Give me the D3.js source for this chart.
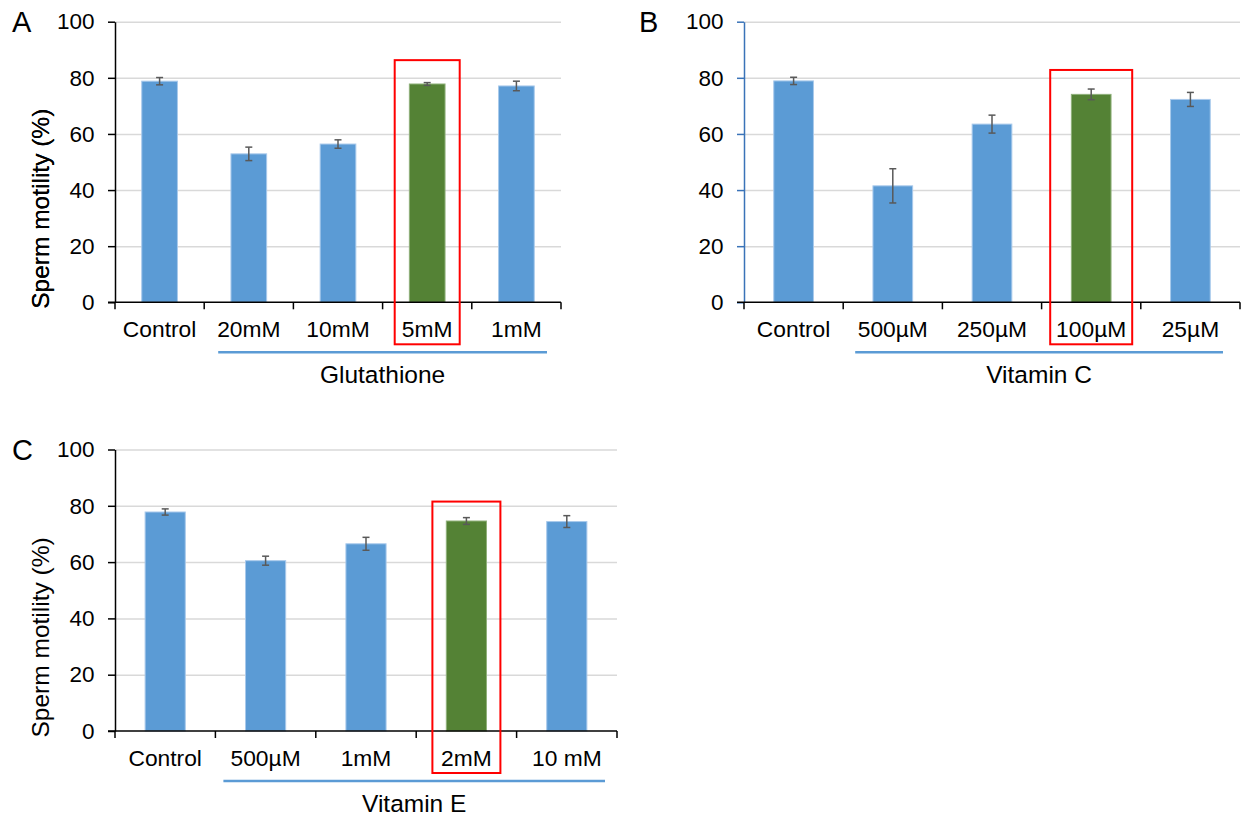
<!DOCTYPE html>
<html lang="en">
<head>
    <meta charset="utf-8">
    <title>Sperm motility</title>
    <script src="https://d3js.org/d3.v7.min.js"></script>
    <style>
        html, body {
            margin: 0;
            padding: 0;
            background: #fff;
        }
        text {
            font-family: Arial, "Liberation Sans", sans-serif;
            fill: #000;
        }
        .grid line {
            stroke: #d9d9d9;
            stroke-width: 1.5px;
        }
        .grid path {
            display: none;
        }
    </style>
</head>
<body>
<script type="text/javascript">

    // Panel A - Glutathione
    var catsA = ["Control", "20mM", "10mM", "5mM", "1mM"];
    var valsA = [78.8, 52.9, 56.4, 77.8, 77.1];
    var errA = [1.3, 2.4, 1.5, 0.5, 1.7];

    // Panel B - Vitamin C
    var catsB = ["Control", "500µM", "250µM", "100µM", "25µM"];
    var valsB = [78.9, 41.5, 63.5, 74.1, 72.3];
    var errB = [1.3, 6.1, 3.2, 1.9, 2.5];

    // Panel C - Vitamin E
    var catsC = ["Control", "500µM", "1mM", "2mM", "10 mM"];
    var valsC = [77.8, 60.5, 66.5, 74.6, 74.4];
    var errC = [1.1, 1.6, 2.3, 1.2, 2.1];

    var yTicks = [0, 20, 40, 60, 80, 100];
    var yTitle = "Sperm motility (%)";

    var w = 1241;
    var h = 817;

    var svg = d3.select("body")
        .append("svg")
        .attr("width", w)
        .attr("height", h);

    var panels = [
        { letter: "A", cats: catsA, vals: valsA, err: errA, group: "Glutathione", best: 3,
          left: 115, right: 561, top: 21.7, bottom: 302.3, yAxisColor: "#000",
          letterX: 12, boxTop: 86.3, boxW: 65, lineL: 14, lineR: 14 },
        { letter: "B", cats: catsB, vals: valsB, err: errB, group: "Vitamin C", best: 3,
          left: 744, right: 1240, top: 21.7, bottom: 302.3, yAxisColor: "#3a73b8",
          letterX: 639, boxTop: 82.8, boxW: 82, lineL: 12, lineR: 17 },
        { letter: "C", cats: catsC, vals: valsC, err: errC, group: "Vitamin E", best: 3,
          left: 115, right: 617, top: 449.5, bottom: 731, yAxisColor: "#000",
          letterX: 12, boxTop: 81.5, boxW: 68, lineL: 8, lineR: 12 }
    ];

    panels.forEach(drawPanel);

    function drawPanel(p) {
        var g = svg.append("g");

        var x = d3.scaleBand()
            .domain(p.cats)
            .range([p.left, p.right])
            .paddingInner(0.6)
            .paddingOuter(0.3);

        var y = d3.scaleLinear()
            .domain([0, 100])
            .range([p.bottom, p.top]);

        var step = x.step();
        var x0 = p.left;

        // gridlines
        g.append("g")
            .attr("class", "grid")
            .attr("transform", "translate(" + p.left + ",0)")
            .call(d3.axisLeft(y).tickValues(yTicks.slice(1)).tickSize(-(p.right - p.left)).tickFormat(""));

        // bars
        g.selectAll("rect.bar")
            .data(p.vals)
            .enter()
            .append("rect")
            .attr("class", "bar")
            .attr("x", function(d, i) { return x(p.cats[i]); })
            .attr("y", function(d) { return y(d); })
            .attr("width", x.bandwidth())
            .attr("height", function(d) { return y(0) - y(d); })
            .attr("fill", function(d, i) { return i === p.best ? "#548235" : "#5b9bd5"; })
            .attr("stroke", function(d, i) { return i === p.best ? "#8fb07a" : "#a8c9eb"; })
            .attr("stroke-width", 1);

        // error bars
        var eb = g.selectAll("g.err")
            .data(p.vals)
            .enter()
            .append("g")
            .attr("class", "err")
            .attr("stroke", "#595959")
            .attr("stroke-width", 1.5);

        eb.append("line")
            .attr("x1", function(d, i) { return x(p.cats[i]) + x.bandwidth() / 2; })
            .attr("x2", function(d, i) { return x(p.cats[i]) + x.bandwidth() / 2; })
            .attr("y1", function(d, i) { return y(d + p.err[i]); })
            .attr("y2", function(d, i) { return y(d - p.err[i]); });

        [1, -1].forEach(function(s) {
            eb.append("line")
                .attr("x1", function(d, i) { return x(p.cats[i]) + x.bandwidth() / 2 - 3.5; })
                .attr("x2", function(d, i) { return x(p.cats[i]) + x.bandwidth() / 2 + 3.5; })
                .attr("y1", function(d, i) { return y(d + s * p.err[i]); })
                .attr("y2", function(d, i) { return y(d + s * p.err[i]); });
        });

        // y axis
        var yAxis = g.append("g")
            .attr("transform", "translate(" + p.left + ",0)")
            .call(d3.axisLeft(y).tickValues(yTicks).tickSize(7).tickSizeOuter(0).tickPadding(13.5));
        yAxis.select(".domain").attr("stroke", p.yAxisColor).attr("stroke-width", 1.5);
        yAxis.selectAll(".tick line").attr("stroke", p.yAxisColor).attr("stroke-width", 1.5);
        yAxis.selectAll(".tick text")
            .style("font-size", "22.5px")
            .attr("fill", "#000");

        // x axis: line + ticks at band boundaries
        g.append("line")
            .attr("x1", p.left - 7)
            .attr("x2", p.right)
            .attr("y1", y(0))
            .attr("y2", y(0))
            .attr("stroke", "#000")
            .attr("stroke-width", 1.5);

        g.selectAll("line.xtick")
            .data(d3.range(p.cats.length + 1))
            .enter()
            .append("line")
            .attr("class", "xtick")
            .attr("x1", function(i) { return x0 + i * step; })
            .attr("x2", function(i) { return x0 + i * step; })
            .attr("y1", y(0))
            .attr("y2", y(0) + 7)
            .attr("stroke", "#000")
            .attr("stroke-width", 1.5);

        g.selectAll("text.xlab")
            .data(p.cats)
            .enter()
            .append("text")
            .attr("class", "xlab")
            .attr("x", function(d) { return x(d) + x.bandwidth() / 2; })
            .attr("y", y(0) + 35)
            .attr("text-anchor", "middle")
            .style("font-size", "22.8px")
            .text(function(d) { return d; });

        // group bracket line + title
        var lx1 = x0 + step + p.lineL;
        var lx2 = p.right - p.lineR;
        g.append("line")
            .attr("x1", lx1)
            .attr("x2", lx2)
            .attr("y1", y(0) + 50)
            .attr("y2", y(0) + 50)
            .attr("stroke", "#5b9bd5")
            .attr("stroke-width", 2.5);

        g.append("text")
            .attr("x", (lx1 + lx2) / 2)
            .attr("y", y(0) + 80.5)
            .attr("text-anchor", "middle")
            .style("font-size", "24.5px")
            .text(p.group);

        // highlight box
        var cx = x(p.cats[p.best]) + x.bandwidth() / 2;
        g.append("rect")
            .attr("x", cx - p.boxW / 2)
            .attr("y", y(p.boxTop))
            .attr("width", p.boxW)
            .attr("height", y(0) + 42 - y(p.boxTop))
            .attr("fill", "none")
            .attr("stroke", "#ff0000")
            .attr("stroke-width", 2);

        // y title
        g.append("text")
            .attr("transform", "translate(" + 49 + "," + (y(0) + 6.5) + ") rotate(-90)")
            .attr("text-anchor", "start")
            .style("font-size", "24.5px")
            .text(yTitle);

        // panel letter
        g.append("text")
            .attr("x", p.letterX)
            .attr("y", p.top + 10)
            .style("font-size", "29px")
            .text(p.letter);
    }

</script>
</body>
</html>
